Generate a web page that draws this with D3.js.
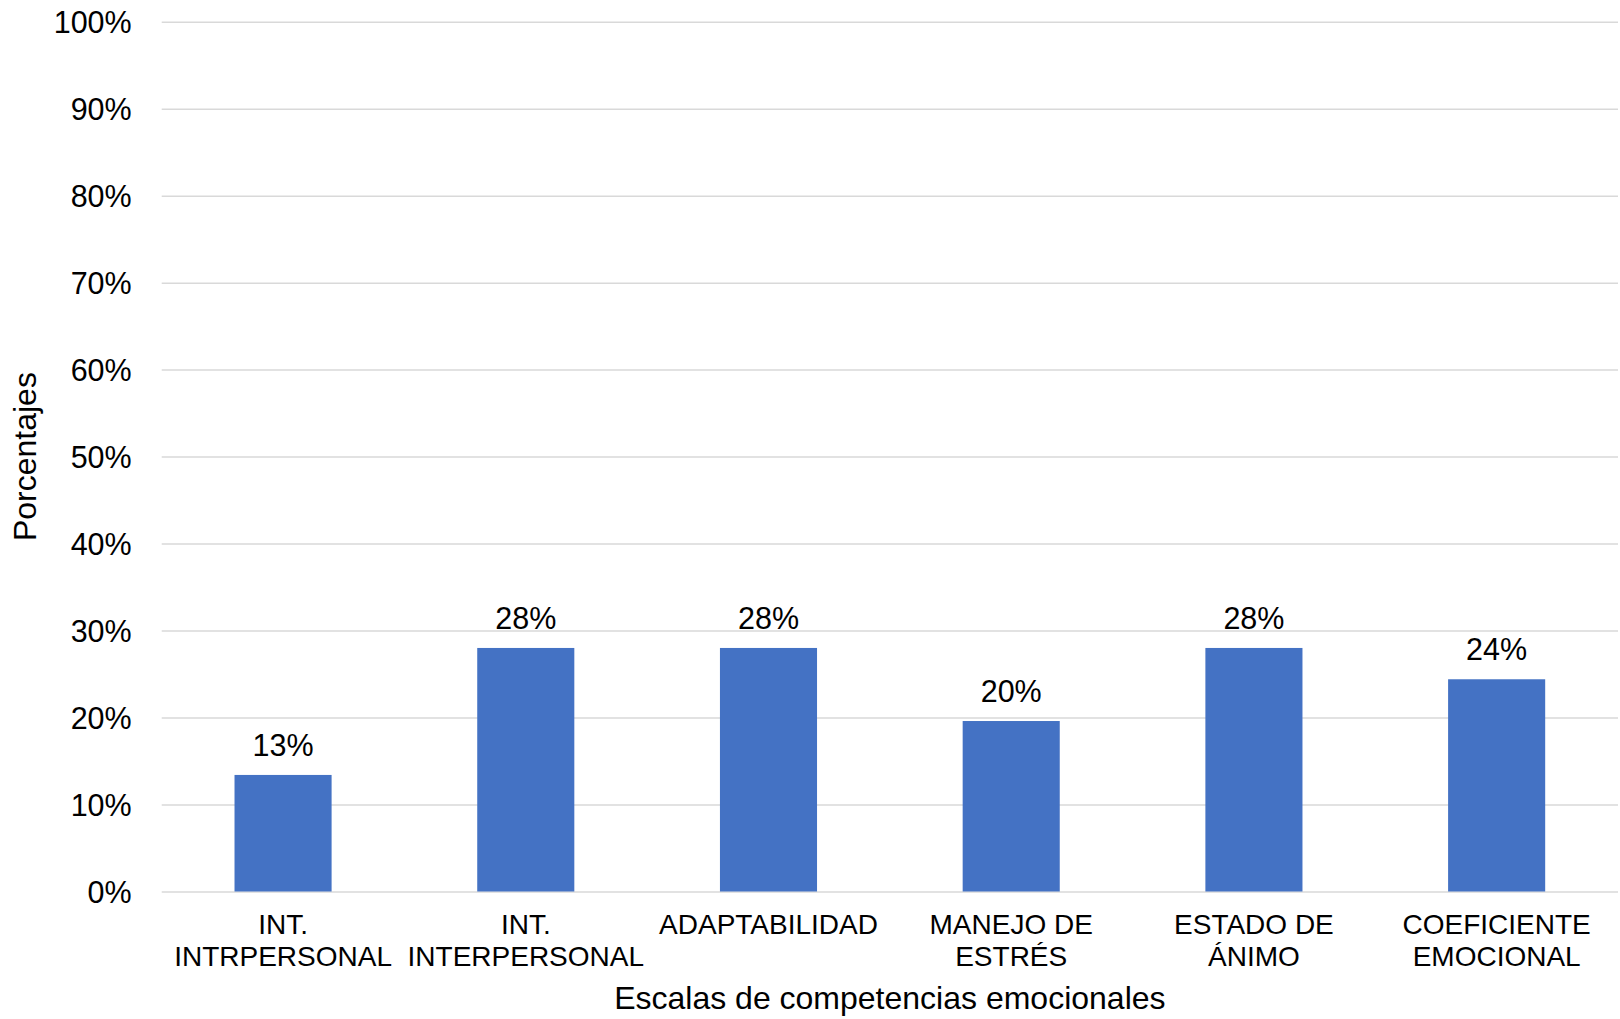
<!DOCTYPE html>
<html>
<head>
<meta charset="utf-8">
<script src="https://cdn.jsdelivr.net/npm/d3@7"></script>
<style>
  html, body { margin: 0; padding: 0; background: #fff; }
  svg { display: block; font-family: "Liberation Sans", Arial, sans-serif; }
</style>
</head>
<body>
<svg id="chart" width="1620" height="1019"></svg>
<script>
// Share of students per emotional-competence scale
const categories = [
  "INT. INTRPERSONAL",
  "INT. INTERPERSONAL",
  "ADAPTABILIDAD",
  "MANEJO DE ESTRÉS",
  "ESTADO DE ÁNIMO",
  "COEFICIENTE EMOCIONAL"
];
const values = [0.134, 0.28, 0.28, 0.196, 0.28, 0.244];
const yTicks = [0, 0.1, 0.2, 0.3, 0.4, 0.5, 0.6, 0.7, 0.8, 0.9, 1.0];
const xTitle = "Escalas de competencias emocionales";
const yTitle = "Porcentajes";

const W = 1620, H = 1019;
const plot = { left: 161.7, right: 1618, top: 21.7, bottom: 891.5 };

const svg = d3.select("#chart");
const pct = d3.format(".0%");

const x = d3.scaleBand()
  .domain(categories)
  .range([plot.left, plot.right])
  .paddingInner(0.6)
  .paddingOuter(0.3);

const y = d3.scaleLinear()
  .domain([0, 1])
  .range([plot.bottom, plot.top]);

// horizontal gridlines + percentage tick labels
const yAxis = d3.axisLeft(y)
  .tickValues(yTicks)
  .tickFormat(pct)
  .tickSize(-(plot.right - plot.left))
  .tickPadding(30);

const gy = svg.append("g")
  .attr("transform", `translate(${plot.left},0)`)
  .call(yAxis);
gy.select(".domain").remove();
gy.selectAll(".tick line")
  .attr("stroke", "#d9d9d9")
  .attr("stroke-width", 1.5);
gy.selectAll(".tick text")
  .attr("fill", "#000")
  .attr("font-size", 30.5)
  .attr("dy", "0.35em");

// bars
svg.append("g")
  .selectAll("rect")
  .data(values)
  .join("rect")
  .attr("x", (d, i) => x(categories[i]))
  .attr("y", d => y(d))
  .attr("width", x.bandwidth())
  .attr("height", d => y(0) - y(d))
  .attr("fill", "#4472c4");

// value labels above bars
svg.append("g")
  .selectAll("text")
  .data(values)
  .join("text")
  .attr("x", (d, i) => x(categories[i]) + x.bandwidth() / 2)
  .attr("y", d => y(d) - 19)
  .attr("text-anchor", "middle")
  .attr("font-size", 30.5)
  .attr("fill", "#000")
  .text(d => pct(d));

// category labels, wrapped to the band step
const xAxis = d3.axisBottom(x).tickSize(0).tickPadding(0);
const gx = svg.append("g")
  .attr("transform", `translate(0,${plot.bottom})`)
  .call(xAxis);
gx.select(".domain").remove();
gx.selectAll(".tick text")
  .attr("fill", "#000")
  .attr("font-size", 28)
  .attr("y", 0)
  .attr("dy", null)
  .each(function(label) {
    const t = d3.select(this);
    const words = label.split(" ");
    t.text(null);
    const maxW = x.step() - 6;
    let lines = [], line = [];
    const probe = t.append("tspan");
    words.forEach(w => {
      const trial = line.concat(w).join(" ");
      probe.text(trial);
      if (probe.node().getComputedTextLength() > maxW && line.length) {
        lines.push(line.join(" "));
        line = [w];
      } else {
        line.push(w);
      }
    });
    lines.push(line.join(" "));
    probe.remove();
    lines.forEach((ln, k) => {
      t.append("tspan")
        .attr("x", 0)
        .attr("y", 42.5 + k * 31.5)
        .text(ln);
    });
  });

// axis titles
svg.append("text")
  .attr("x", (plot.left + plot.right) / 2)
  .attr("y", 1009)
  .attr("text-anchor", "middle")
  .attr("font-size", 32)
  .attr("fill", "#000")
  .text(xTitle);

svg.append("text")
  .attr("transform", `translate(36,${(plot.top + plot.bottom) / 2}) rotate(-90)`)
  .attr("text-anchor", "middle")
  .attr("font-size", 32)
  .attr("fill", "#000")
  .text(yTitle);
</script>
</body>
</html>
